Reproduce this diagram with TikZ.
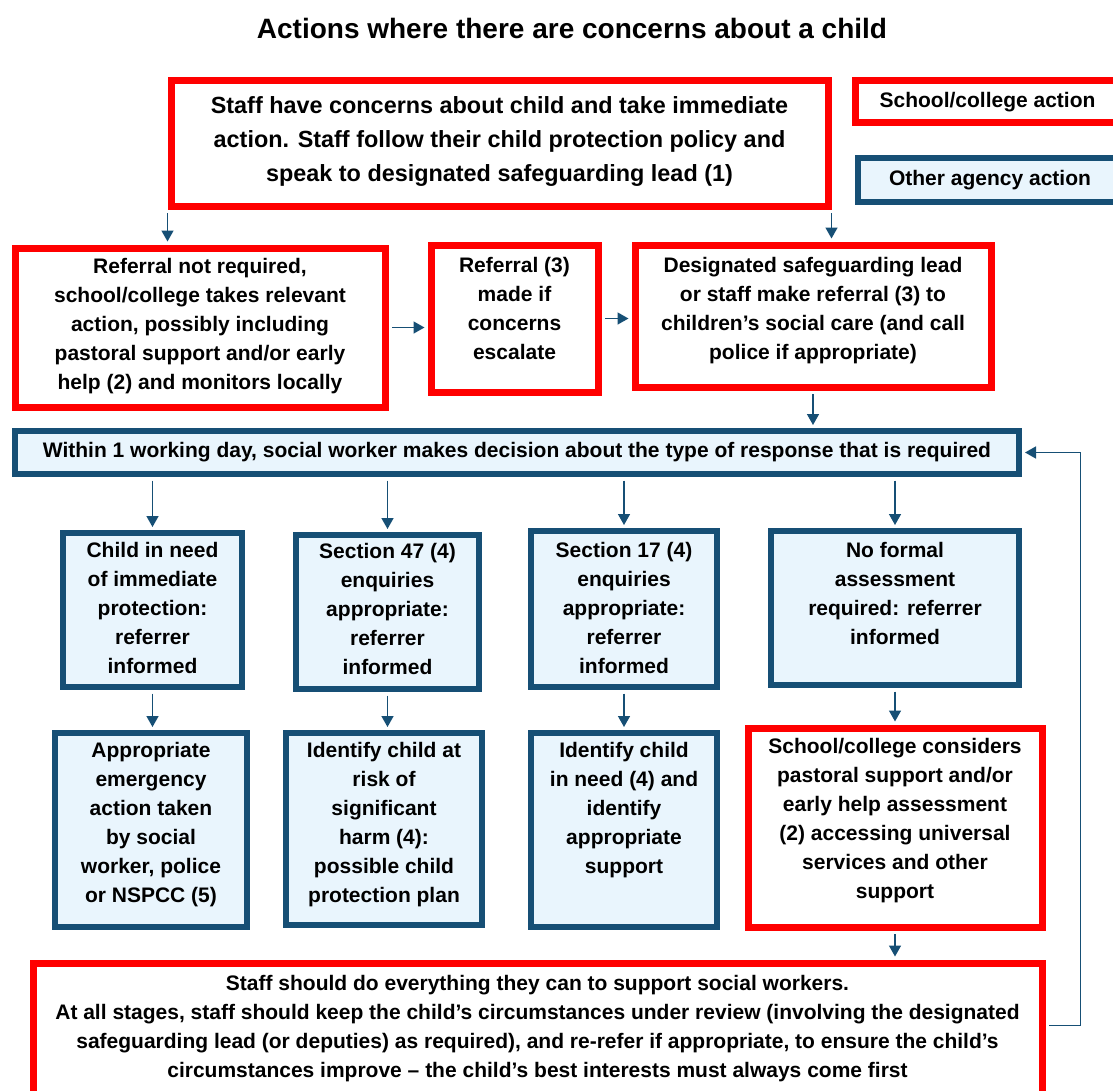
\documentclass[tikz,border=0pt]{standalone}
\usepackage{fontspec}
\setmainfont{Liberation Sans}
\usetikzlibrary{arrows.meta}

\definecolor{schoolred}{RGB}{255,0,0}
\definecolor{agencyblue}{RGB}{22,79,117}
\definecolor{agencyfill}{RGB}{233,245,253}

\newcommand{\boxfont}{\bfseries\fontsize{21}{29}\selectfont}

\tikzset{
    schoolbox/.style={draw=schoolred, line width=7pt, fill=white, align=center, inner sep=0pt, font=\boxfont},
    agencybox/.style={draw=agencyblue, line width=6pt, fill=agencyfill, align=center, inner sep=0pt, font=\boxfont},
    flow/.style={agencyblue, line width=1.5pt, -{Triangle[width=12pt,length=11pt]}, shorten <=3.5pt, shorten >=3pt}
}

\begin{document}
\begin{tikzpicture}[x=1pt, y=-1pt]
    \useasboundingbox (0, 0) rectangle (1113, 1090);
    \clip (0, 0) rectangle (1113, 1090);
    % Title
    \node [font=\bfseries\fontsize{28}{32}\selectfont] (title) at (572, 28) {Actions where there are concerns about a child};
    % Key
    \node [schoolbox, minimum width=265pt, text height=27pt, text depth=15pt] (keyschool) at (987.5, 101) {School/college action};
    \node [agencybox, minimum width=264pt, text height=27.5pt, text depth=16.5pt] (keyagency) at (990, 180) {Other agency action};
    % First concern and referral
    \node [schoolbox, minimum width=657pt, text height=101pt, text depth=25pt, font=\bfseries\fontsize{23.4}{34}\selectfont] (concern) at (499.5, 143) {Staff have concerns about child and take immediate\\action. Staff follow their child protection policy and\\speak to designated safeguarding lead (1)};
    \node [schoolbox, minimum width=370pt, text height=141.5pt, text depth=17.5pt] (notrequired) at (200, 327.5) {Referral not required,\\school/college takes relevant\\action, possibly including\\pastoral support and/or early\\help (2) and monitors locally};
    \node [schoolbox, minimum width=167pt, text height=114.5pt, text depth=32.5pt] (escalate) at (514.5, 318.5) {Referral (3)\\made if\\concerns\\escalate};
    \node [schoolbox, minimum width=356pt, text height=114.5pt, text depth=27.5pt] (dslreferral) at (813, 316) {Designated safeguarding lead\\or staff make referral (3) to\\children’s social care (and call\\police if appropriate)};
    \node [agencybox, minimum width=1004pt, text height=26.5pt, text depth=16.5pt] (decision) at (517, 452.5) {Within 1 working day, social worker makes decision about the type of response that is required};
    % Types of response
    \node [agencybox, minimum width=179pt, text height=140.5pt, text depth=13.5pt] (immediate) at (152.5, 610) {Child in need\\of immediate\\protection:\\referrer\\informed};
    \node [agencybox, minimum width=183pt, text height=139.5pt, text depth=14.5pt] (section47) at (387.5, 612) {Section 47 (4)\\enquiries\\appropriate:\\referrer\\informed};
    \node [agencybox, minimum width=186pt, text height=142.5pt, text depth=13.5pt] (section17) at (624, 609) {Section 17 (4)\\enquiries\\appropriate:\\referrer\\informed};
    \node [agencybox, minimum width=248pt, text height=113.5pt, text depth=40.5pt] (noformal) at (895, 608) {No formal\\assessment\\required: referrer\\informed};
    % Outcomes
    \node [agencybox, minimum width=192pt, text height=169.5pt, text depth=24.5pt] (emergency) at (151, 830) {Appropriate\\emergency\\action taken\\by social\\worker, police\\or NSPCC (5)};
    \node [agencybox, minimum width=196pt, text height=169.5pt, text depth=22.5pt] (significant) at (384, 829) {Identify child at\\risk of\\significant\\harm (4):\\possible child\\protection plan};
    \node [agencybox, minimum width=186pt, text height=140.5pt, text depth=53.5pt] (childneed) at (624, 830) {Identify child\\in need (4) and\\identify\\appropriate\\support};
    \node [schoolbox, minimum width=294pt, text height=170.5pt, text depth=28.5pt] (pastoral) at (895, 827.5) {School/college considers\\pastoral support and/or\\early help assessment\\(2) accessing universal\\services and other\\support};
    \node [schoolbox, minimum width=1009pt, text height=114.5pt, text depth=32.5pt] (review) at (537.5, 1036.5) {Staff should do everything they can to support social workers.\\At all stages, staff should keep the child’s circumstances under review (involving the designated\\safeguarding lead (or deputies) as required), and re-refer if appropriate, to ensure the child’s\\circumstances improve – the child’s best interests must always come first};
    % Arrows
    \draw [flow] (concern.south west) -- (concern.south west |- notrequired.north);
    \draw [flow] (concern.south east) -- (concern.south east |- dslreferral.north);
    \draw [flow] (notrequired.east) -- (notrequired.east -| escalate.west);
    \draw [flow] (escalate.east) -- (escalate.east -| dslreferral.west);
    \draw [flow] (dslreferral.south) -- (dslreferral.south |- decision.north);
    \draw [flow] (decision.south -| immediate.north) -- (immediate.north);
    \draw [flow] (decision.south -| section47.north) -- (section47.north);
    \draw [flow] (decision.south -| section17.north) -- (section17.north);
    \draw [flow] (decision.south -| noformal.north) -- (noformal.north);
    \draw [flow] (immediate.south) -- (immediate.south |- emergency.north);
    \draw [flow] (section47.south) -- (section47.south |- significant.north);
    \draw [flow] (section17.south) -- (section17.south |- childneed.north);
    \draw [flow] (noformal.south) -- (noformal.south |- pastoral.north);
    \draw [flow] (pastoral.south) -- (pastoral.south |- review.north);
    % Back to the decision
    \draw [flow] ([yshift=11pt]review.east) -- ++(35, 0) |- (decision.east);
\end{tikzpicture}
\end{document}
